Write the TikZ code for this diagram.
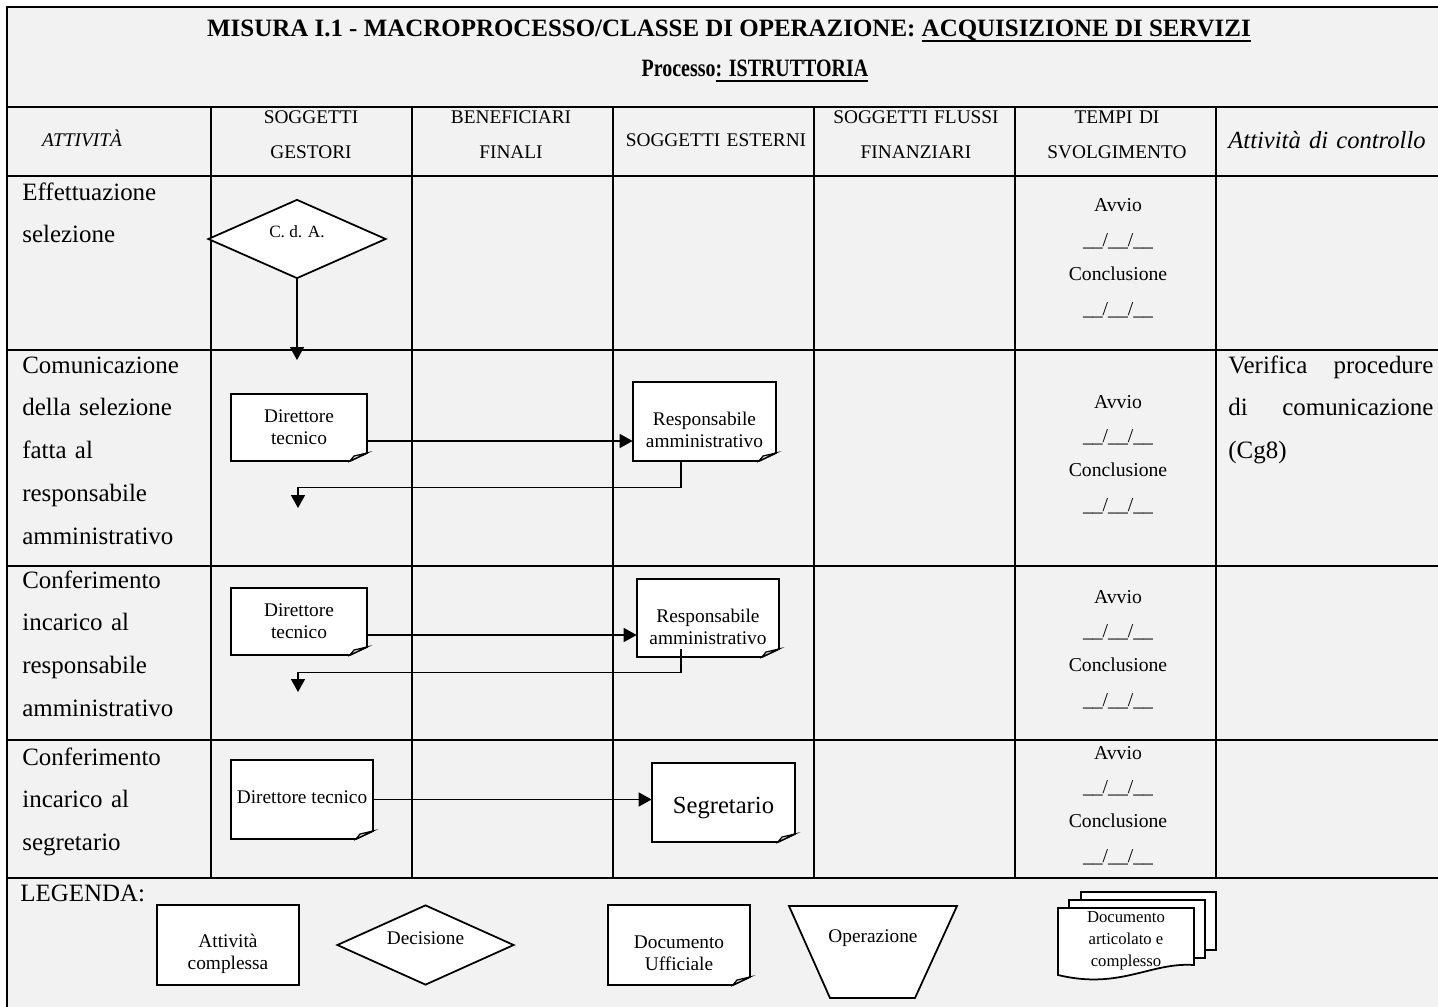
\documentclass[tikz,border=0pt]{standalone}
\usepackage{fontspec}
\setmainfont{Liberation Serif}
\newfontfamily\narrowserif[FakeStretch=0.8]{Liberation Serif}
\usetikzlibrary{
  arrows.meta,
  shapes.geometric,
  fit
}

\definecolor{paper}{HTML}{F2F2F2}
\newsavebox{\ulbox}
\newcommand{\thickul}[1]{\sbox{\ulbox}{#1}\rlap{\rule[-2.6pt]{\wd\ulbox}{1.1pt}}\usebox{\ulbox}}
\newcommand{\datefield}{\_\_/\_\_/\_\_}
\newcommand{\docsheet}[7]{%
  \draw[sheet] (#2,#3) -- (#4,#3) -- (#4,#5-8) -- (#4-17,#5) -- (#2,#5) -- cycle;
  \draw[fold] (#4-17,#5) -- (#4-13,#5-5) -- (#4,#5-8) -- cycle;
  \node[fit={(#2,#3) (#4,#5)}, inner sep=0pt,
    label={[sheettext, yshift=#6]center:{#7}}] (#1) {};
}

\begin{document}
\begin{tikzpicture}[x=0.02cm, y=-0.02cm,
  grid/.style={line width=1.4pt},
  sheet/.style={draw, line width=1pt, fill=white},
  fold/.style={draw, line width=0.7pt, fill=gray!30},
  sheettext/.style={align=center, inner sep=0pt, font=\fontsize{11}{12.6}\selectfont},
  flow/.style={line width=0.9pt, -{Triangle[width=0.28cm, length=0.26cm]}},
  decision/.style={diamond, draw, line width=1pt, fill=white, inner sep=0pt,
    minimum width=3.56cm, minimum height=1.58cm},
  titletext/.style={anchor=base, inner sep=0pt, font=\bfseries\fontsize{14.2}{17}\selectfont},
  headtext/.style={anchor=base, align=center, text width=3.9cm, inner sep=0pt,
    font=\fontsize{11}{19.5}\selectfont},
  acttext/.style={anchor=base west, align=left, text width=3.8cm, inner sep=0pt,
    font=\fontsize{14.2}{24.4}\selectfont},
  timetext/.style={anchor=base, align=center, text width=3.8cm, inner sep=0pt,
    font=\fontsize{11.2}{19.6}\selectfont}
]
\useasboundingbox (0,0) rectangle (1438,1007);
\fill[white] (0,0) rectangle (1438,1007);
\fill[paper] (7,7) rectangle (1438,1007);

% table
\draw[grid] (1438,7) -- (7,7) -- (7,1007);
\foreach \y in {107,176,350,566,740,878}
  \draw[grid] (7,\y) -- (1438,\y);
\foreach \x in {211,412,613,814,1015,1216}
  \draw[grid] (\x,107) -- (\x,878);

\node[titletext] (title) at (729,37) {MISURA I.1 - MACROPROCESSO/CLASSE DI OPERAZIONE: \thickul{ACQUISIZIONE DI SERVIZI}};
\node[titletext, font=\narrowserif\bfseries\fontsize{14.2}{17}\selectfont] (process) at (755,77) {Processo\thickul{: ISTRUTTORIA}};

\node[headtext] (h-act) at (82,147) {\textit{ATTIVITÀ}};
\node[headtext] (h-gest) at (311,124) {SOGGETTI\\GESTORI};
\node[headtext] (h-ben) at (511,124) {BENEFICIARI\\FINALI};
\node[headtext] (h-est) at (716,147) {SOGGETTI ESTERNI};
\node[headtext] (h-fin) at (916,124) {SOGGETTI FLUSSI\\FINANZIARI};
\node[headtext] (h-tempi) at (1117,124) {TEMPI DI\\SVOLGIMENTO};
\node[headtext, text width=4.3cm, font=\itshape\fontsize{14}{17}\selectfont] (h-ctrl) at (1327,149) {Attività di controllo};

\node[acttext] (a1) at (22,200) {Effettuazione\\selezione};
\node[acttext] (a2) at (22,373) {Comunicazione\\della selezione\\fatta al\\responsabile\\amministrativo};
\node[acttext] (a3) at (22,588) {Conferimento\\incarico al\\responsabile\\amministrativo};
\node[acttext] (a4) at (22,765) {Conferimento\\incarico al\\segretario};

\node[timetext] (t1) at (1118,212) {Avvio\\\datefield\\Conclusione\\\datefield};
\node[timetext] (t2) at (1118,408) {Avvio\\\datefield\\Conclusione\\\datefield};
\node[timetext] (t3) at (1118,603) {Avvio\\\datefield\\Conclusione\\\datefield};
\node[timetext] (t4) at (1118,759) {Avvio\\\datefield\\Conclusione\\\datefield};

\node[anchor=base west, text width=4.1cm, inner sep=0pt, align=justify,
  font=\fontsize{14.2}{24.4}\selectfont] (c2) at (1228,373)
  {Verifica\hfill procedure\\di\hfill comunicazione\\(Cg8)};

% flow
\node[decision, label={[font=\fontsize{9.8}{11}\selectfont, yshift=0.14cm]center:C. d. A.}] (cda) at (297,239) {};
\coordinate (cda-in) at (297,360);
\draw[flow] (cda) -- (cda-in);

\docsheet{dir2}{231}{394}{367}{461}{0cm}{Direttore\\tecnico}
\docsheet{resp2}{633}{382}{776}{461}{-0.16cm}{Responsabile\\amministrativo}
\coordinate (dir2-out) at ([yshift=-0.27cm]dir2.east);
\draw[flow] (dir2-out) -- (dir2-out -| resp2.west);
\coordinate (ret2) at (298,508);
\draw[flow] ([xshift=-0.47cm]resp2.south) -- ++(0,26) -| (ret2);

\docsheet{dir3}{231}{588}{367}{655}{0cm}{Direttore\\tecnico}
\docsheet{resp3}{637}{579}{779}{657}{-0.17cm}{Responsabile\\amministrativo}
\coordinate (dir3-out) at ([yshift=-0.27cm]dir3.east);
\draw[flow] (dir3-out) -- (dir3-out -| resp3.west);
\coordinate (ret3) at (298,692);
\draw[flow] ([xshift=-0.54cm, yshift=0.16cm]resp3.south) -- ++(0,23) -| (ret3);

\docsheet{dir4}{231}{760}{373}{839}{0.04cm}{Direttore tecnico}
\docsheet{seg}{652}{763}{795}{842}{-0.11cm}{\fontsize{14}{16}\selectfont Segretario}
\draw[flow] (dir4.east) -- (dir4.east -| seg.west);

% legend
\node[anchor=base west, inner sep=0pt, font=\fontsize{14.2}{17}\selectfont] (legend) at (20,901) {LEGENDA:};
\node[draw, line width=1pt, fill=white, minimum width=2.84cm, minimum height=1.6cm,
  label={[sheettext, yshift=-0.17cm]center:{Attività\\complessa}}] (leg-act) at (228,945) {};
\node[decision, minimum width=3.54cm, minimum height=1.6cm,
  label={[sheettext, yshift=0.14cm]center:Decisione}] (leg-dec) at (425.5,945) {};
\docsheet{leg-doc}{608}{905}{750}{985}{-0.17cm}{Documento\\Ufficiale}
\draw[sheet] (789,906) -- (957,906) -- (915,998) -- (830,998) -- cycle;
\node[sheettext] (leg-op) at (873,938) {Operazione};
\draw[sheet] (1081,892) rectangle (1216,950);
\draw[sheet] (1069,900) rectangle (1205,958);
\draw[sheet] (1058,908) -- (1194,908) -- (1194,965) .. controls (1150,962) and (1120,990) .. (1058,975) -- cycle;
\begin{scope}
  \clip (1058,908) -- (1194,908) -- (1194,965) .. controls (1150,962) and (1120,990) .. (1058,975) -- cycle;
  \node[sheettext, font=\fontsize{9.5}{12.5}\selectfont] (leg-multi) at (1126,941) {Documento\\articolato e\\complesso};
\end{scope}
\end{tikzpicture}
\end{document}
